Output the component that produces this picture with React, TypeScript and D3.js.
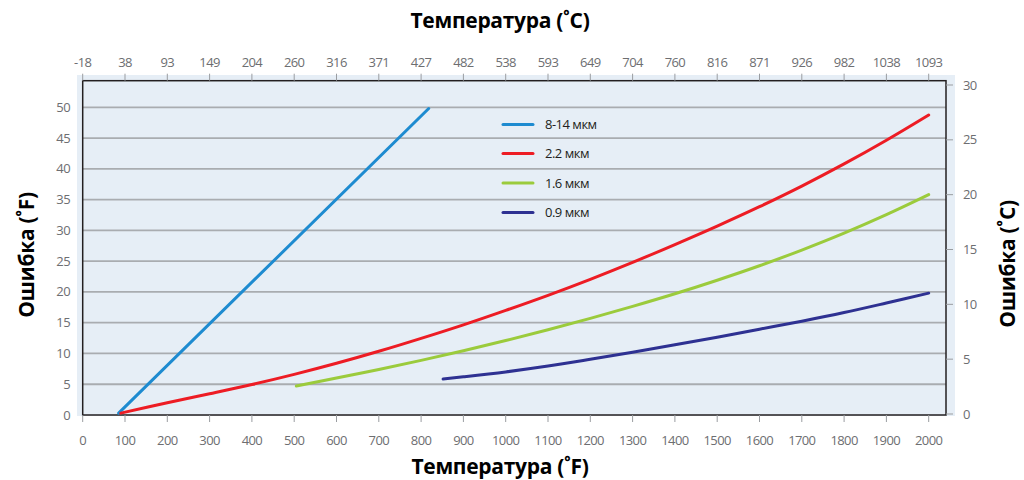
import React from "react";
import * as d3 from "d3";

const fTicks = [0, 100, 200, 300, 400, 500, 600, 700, 800, 900, 1000, 1100, 1200, 1300, 1400, 1500, 1600, 1700, 1800, 1900, 2000];
const cTickLabels = ["-18", "38", "93", "149", "204", "260", "316", "371", "427", "482", "538", "593", "649", "704", "760", "816", "871", "926", "982", "1038", "1093"];
const yTicksF = [0, 5, 10, 15, 20, 25, 30, 35, 40, 45, 50];
const yTicksC = [0, 5, 10, 15, 20, 25, 30];

const seriesNames = ["8-14 мкм", "2.2 мкм", "1.6 мкм", "0.9 мкм"];
const seriesColors = ["#1e8bd0", "#ed1c24", "#9bcb3c", "#2e3192"];

const blueX = [85, 818];
const blueY = [0.3, 49.8];
const redX = [90, 200, 300, 400, 500, 600, 700, 800, 900, 1000, 1100, 1200, 1300, 1400, 1500, 1600, 1700, 1800, 1900, 2000];
const redY = [0.3, 2.0, 3.45, 4.95, 6.6, 8.4, 10.35, 12.45, 14.65, 17.0, 19.45, 22.05, 24.8, 27.7, 30.7, 33.85, 37.2, 40.8, 44.65, 48.75];
const greenX = [505, 600, 700, 800, 900, 1000, 1100, 1200, 1300, 1400, 1500, 1600, 1700, 1800, 1900, 2000];
const greenY = [4.7, 6.0, 7.4, 8.88, 10.45, 12.1, 13.85, 15.7, 17.65, 19.7, 21.9, 24.25, 26.8, 29.55, 32.55, 35.8];
const navyX = [852, 900, 1000, 1100, 1200, 1300, 1400, 1500, 1600, 1700, 1800, 1900, 2000];
const navyY = [5.85, 6.2, 7.0, 7.95, 9.05, 10.2, 11.4, 12.65, 13.95, 15.25, 16.65, 18.2, 19.8];

const seriesX = [blueX, redX, greenX, navyX];
const seriesY = [blueY, redY, greenY, navyY];

const FONT = "'Open Sans', 'Noto Sans', sans-serif";

export default function App() {
  const x = d3.scaleLinear().domain([0, 2000]).range([82.7, 928.7]);
  const y = d3.scaleLinear().domain([0, 50]).range([415, 107.3]);
  const yC = d3.scaleLinear().domain([0, 30]).range([414, 85]);

  const frameL = 82.7, frameR = 946, frameT = 80.7, frameB = 415;

  const line = d3
    .line<[number, number]>()
    .x((d) => x(d[0]))
    .y((d) => y(d[1]))
    .curve(d3.curveCatmullRom.alpha(0.5));

  const legendY = [124.5, 153.5, 183, 212.5];

  return (
    <svg width={1024} height={480} style={{ position: "absolute", left: 0, top: 0, background: "#fff" }}>
      <rect x={77} y={75} width={878} height={341} fill="#e6eef6" />
      {yTicksF.slice(1).map((t) => (
        <line key={"g" + t} x1={frameL} x2={frameR} y1={y(t)} y2={y(t)} stroke="#a9acb0" strokeWidth={1.8} />
      ))}
      {/* frame */}
      <rect x={frameL} y={frameT} width={frameR - frameL} height={frameB - frameT} fill="none" stroke="#231f20" strokeWidth={1.5} />
      {/* bottom ticks */}
      {fTicks.map((t) => (
        <g key={"b" + t}>
          <line x1={x(t)} x2={x(t)} y1={frameB} y2={frameB + 7} stroke="#9a9da1" strokeWidth={1} />
          <text x={x(t)} y={445} textAnchor="middle" fontFamily={FONT} fontSize={13} letterSpacing={-0.6} fill="#6d6e71">
            {t}
          </text>
        </g>
      ))}
      {/* top ticks */}
      {fTicks.map((t, i) => (
        <g key={"t" + t}>
          <line x1={x(t)} x2={x(t)} y1={frameT - 7} y2={frameT} stroke="#9a9da1" strokeWidth={1} />
          <text x={x(t)} y={67} textAnchor="middle" fontFamily={FONT} fontSize={13} letterSpacing={-0.6} fill="#6d6e71">
            {cTickLabels[i]}
          </text>
        </g>
      ))}
      {/* left labels */}
      {yTicksF.map((t) => (
        <text key={"l" + t} x={70} y={y(t) + 4.5} textAnchor="end" fontFamily={FONT} fontSize={13} letterSpacing={-0.6} fill="#6d6e71">
          {t}
        </text>
      ))}
      {/* right ticks */}
      {yTicksC.map((t) => (
        <g key={"r" + t}>
          <line x1={frameR} x2={frameR + 7} y1={yC(t)} y2={yC(t)} stroke="#9a9da1" strokeWidth={1} />
          <text x={963} y={yC(t) + 4.5} textAnchor="start" fontFamily={FONT} fontSize={13} letterSpacing={-0.6} fill="#6d6e71">
            {t}
          </text>
        </g>
      ))}
      {/* series */}
      {seriesX.map((xs, i) => (
        <path
          key={"s" + i}
          d={line(xs.map((v, j) => [v, seriesY[i][j]] as [number, number])) || ""}
          fill="none"
          stroke={seriesColors[i]}
          strokeWidth={3}
          strokeLinecap="round"
        />
      ))}
      {/* legend */}
      {seriesNames.map((n, i) => (
        <g key={"lg" + i}>
          <line x1={503} x2={533} y1={legendY[i]} y2={legendY[i]} stroke={seriesColors[i]} strokeWidth={3} strokeLinecap="round" />
          <text x={545} y={legendY[i] + 4.5} fontFamily={FONT} fontSize={13} letterSpacing={-0.5} fill="#231f20">
            {n}
          </text>
        </g>
      ))}
      {/* titles */}
      <text x={500} y={28} textAnchor="middle" fontFamily={FONT} fontWeight="bold" fontSize={21} letterSpacing={-0.3} fill="#000">
        Температура (˚C)
      </text>
      <text x={500} y={474} textAnchor="middle" fontFamily={FONT} fontWeight="bold" fontSize={21} letterSpacing={-0.3} fill="#000">
        Температура (˚F)
      </text>
      <text transform="translate(34,255) rotate(-90)" textAnchor="middle" fontFamily={FONT} fontWeight="bold" fontSize={21} letterSpacing={-0.3} fill="#000">
        Ошибка (˚F)
      </text>
      <text transform="translate(1015,264) rotate(-90)" textAnchor="middle" fontFamily={FONT} fontWeight="bold" fontSize={21} letterSpacing={-0.3} fill="#000">
        Ошибка (˚C)
      </text>
    </svg>
  );
}
